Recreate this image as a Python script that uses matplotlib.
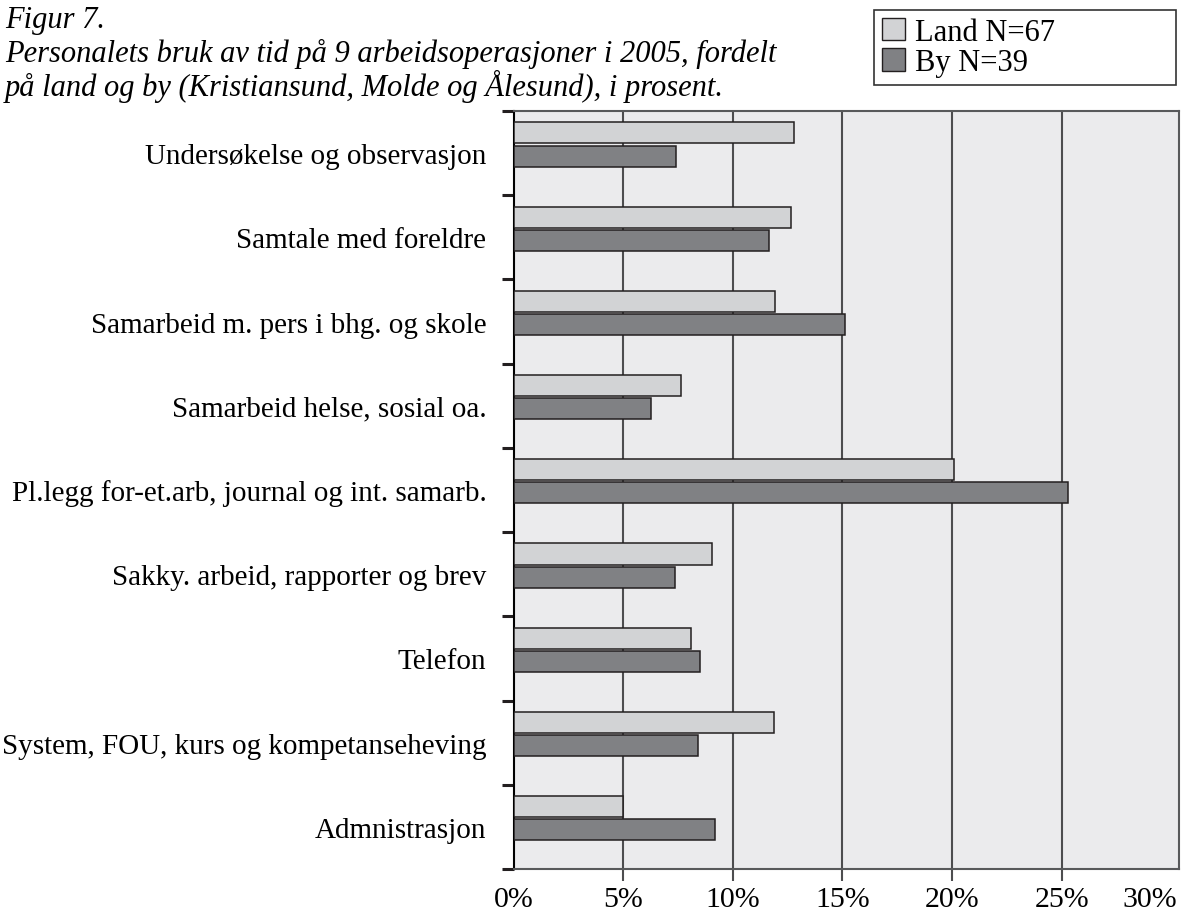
import numpy as np
import matplotlib
matplotlib.use("Agg")
import matplotlib.pyplot as plt
from matplotlib.patches import Patch
from matplotlib.transforms import ScaledTranslation

# ---- data ----
categories = [
    "Undersøkelse og observasjon",
    "Samtale med foreldre",
    "Samarbeid m. pers i bhg. og skole",
    "Samarbeid helse, sosial oa.",
    "Pl.legg for-et.arb, journal og int. samarb.",
    "Sakky. arbeid, rapporter og brev",
    "Telefon",
    "System, FOU, kurs og kompetanseheving",
    "Admnistrasjon",
]
land = [12.8, 12.67, 11.92, 7.64, 20.1, 9.07, 8.1, 11.88, 4.98]
by = [7.4, 11.65, 15.1, 6.28, 25.3, 7.38, 8.5, 8.43, 9.19]
series_labels = ["Land N=67", "By N=39"]
xtick_values = [0, 5, 10, 15, 20, 25, 30]
xtick_labels = ["0%", "5%", "10%", "15%", "20%", "25%", "30%"]
title_lines = [
    "Figur 7.",
    "Personalets bruk av tid på 9 arbeidsoperasjoner i 2005, fordelt",
    "på land og by (Kristiansund, Molde og Ålesund), i prosent.",
]

# ---- style ----
plt.rcParams["font.family"] = ["Liberation Serif", "DejaVu Serif"]
W, H = 1184, 912
bg = "#ebebed"
land_c = "#d2d3d5"
by_c = "#808184"
edge_c = "#231f20"
grid_c = "#4d4d4f"
spine_c = "#58595b"

fig = plt.figure(figsize=(W / 100, H / 100), dpi=100)
fig.patch.set_facecolor("white")
left, right, top, bottom = 513.5, 1179, 112, 870
ax = fig.add_axes([left / W, 1 - bottom / H, (right - left) / W, (bottom - top) / H])
ax.set_facecolor(bg)

y = np.arange(len(categories))
bh = 0.25
ax.barh(y - 0.24, land, height=bh, color=land_c, edgecolor=edge_c, linewidth=1.1, zorder=3)
ax.barh(y + 0.035, by, height=bh, color=by_c, edgecolor=edge_c, linewidth=1.1, zorder=3)

ax.set_xlim(0, (right - left) / 21.93)
ax.set_ylim(len(categories) - 0.5, -0.5)

ax.set_xticks(xtick_values)
ax.set_xticklabels(xtick_labels)
ax.tick_params(axis="x", length=8.6, width=1.5, color=grid_c, pad=4, labelsize=21.5, labelcolor="black")
ax.grid(axis="x", color=grid_c, linewidth=1.5, zorder=1)
ax.set_axisbelow(True)
gl = ax.get_xgridlines()
gl[0].set_visible(False)
gl[-1].set_visible(False)
xt = ax.xaxis.get_major_ticks()
xt[0].tick1line.set_visible(False)
xt[-1].tick1line.set_visible(False)
last = ax.get_xticklabels()[-1]
last.set_ha("right")
last.set_transform(last.get_transform() + ScaledTranslation(6 / 100, 0, fig.dpi_scale_trans))

ax.set_yticks(np.arange(-0.5, len(categories), 1.0))
ax.set_yticklabels([])
ax.tick_params(axis="y", which="major", length=8.6, width=2.2, color=edge_c)
ax.set_yticks(y, minor=True)
ax.set_yticklabels(categories, minor=True)
ax.tick_params(axis="y", which="minor", length=0, pad=19.5, labelsize=21)

for s in ["top", "right", "bottom"]:
    ax.spines[s].set_color(spine_c)
    ax.spines[s].set_linewidth(1.5)
ax.spines["left"].set_color("black")
ax.spines["left"].set_linewidth(1.5)

# ---- title ----
baselines = [28, 62, 96]
for line, b in zip(title_lines, baselines):
    fig.text(5 / W, 1 - b / H, line, fontsize=22, style="italic", va="baseline", ha="left")

# ---- legend ----
handles = [
    Patch(facecolor=land_c, edgecolor=edge_c, linewidth=1.0),
    Patch(facecolor=by_c, edgecolor=edge_c, linewidth=1.0),
]
leg = fig.legend(
    handles, series_labels,
    loc="upper left",
    bbox_to_anchor=(874 / W, 1 - 11 / H, (1176 - 874) / W, 0.0),
    mode="expand",
    fontsize=22,
    handlelength=0.75, handleheight=0.75, handletextpad=0.35,
    borderpad=0.25, labelspacing=0.05, borderaxespad=0,
    fancybox=False, frameon=True,
)
leg.get_frame().set_edgecolor("black")
leg.get_frame().set_linewidth(1.2)

fig.savefig("out.png", dpi=100, facecolor="white")
